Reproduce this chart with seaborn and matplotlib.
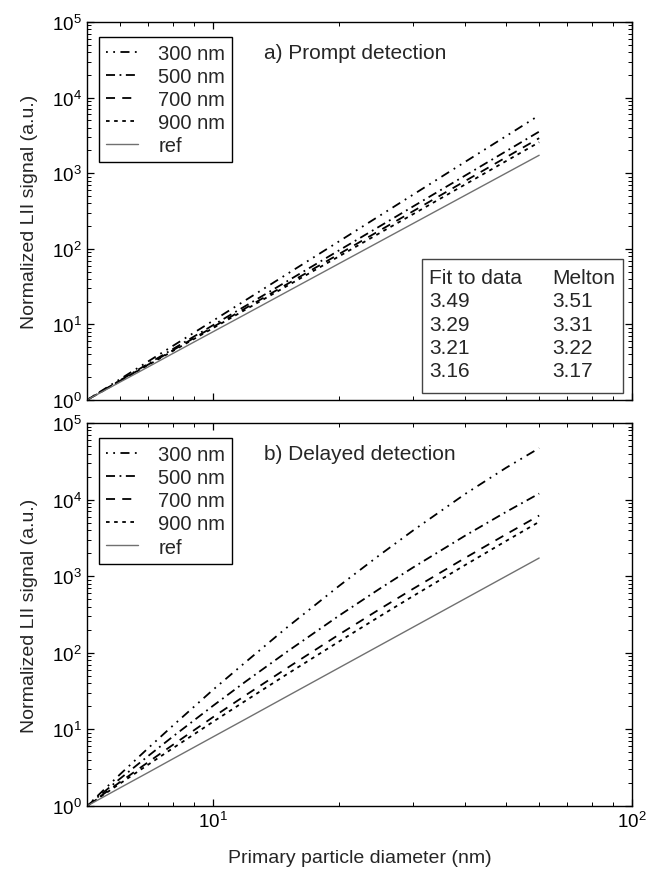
import numpy as np
import matplotlib
matplotlib.use("Agg")
import matplotlib.pyplot as plt
from matplotlib.patches import Rectangle
from matplotlib.ticker import LogLocator, NullFormatter
import seaborn as sns

# primary particle diameter (nm)
diam = [5, 6, 7, 8, 10, 12, 15, 20, 25, 30, 40, 50, 60]

# a) prompt detection
prompt_300 = [1, 1.89, 3.24, 5.16, 11.2, 21.2, 46.2, 126, 275, 520, 1420, 3090, 5840]
prompt_500 = [1, 1.82, 3.02, 4.69, 9.78, 17.8, 37.1, 95.7, 199, 363, 935, 1950, 3550]
prompt_700 = [1, 1.80, 2.94, 4.52, 9.25, 16.6, 34.0, 85.6, 175, 314, 792, 1620, 2910]
prompt_900 = [1, 1.78, 2.90, 4.42, 8.94, 15.9, 32.2, 79.8, 162, 287, 713, 1445, 2570]

# b) delayed detection
delayed_300 = [1, 2.6, 5.7, 11.1, 33, 77, 214, 750, 1900, 3950, 11900, 26000, 47000]
delayed_500 = [1, 2.28, 4.5, 8.0, 20.4, 42.8, 103, 307, 689, 1300, 3400, 6900, 12000]
delayed_700 = [1, 2.06, 3.74, 6.24, 14.5, 28.3, 63, 174, 373, 684, 1740, 3520, 6200]
delayed_900 = [1, 1.97, 3.47, 5.64, 12.6, 24.0, 52.5, 141, 300, 550, 1406, 2880, 5130]

# reference d^3 curve
ref = [1, 1.73, 2.74, 4.10, 8, 13.8, 27, 64, 125, 216, 512, 1000, 1728]

labels = ["300 nm", "500 nm", "700 nm", "900 nm", "ref"]
fit_vals = ["3.49", "3.29", "3.21", "3.16"]
melton_vals = ["3.51", "3.31", "3.22", "3.17"]

styles = [(0, (1, 3, 1, 3, 5, 3)), (0, (5, 2.5, 1, 2.5)), (0, (5, 4)), (0, (2, 2.5)), "-"]
colors = ["black", "black", "black", "black", "#707070"]
widths = [1.3, 1.3, 1.3, 1.3, 1.0]

sns.set_style("ticks")
plt.rcParams["font.family"] = ["Liberation Sans", "DejaVu Sans"]
plt.rcParams["mathtext.fontset"] = "custom"
plt.rcParams["mathtext.rm"] = "Liberation Sans"

fig = plt.figure(figsize=(6.51, 8.79), dpi=100)
ax_a = fig.add_axes([0.1336, 0.5438, 0.8374, 0.4300])
ax_b = fig.add_axes([0.1336, 0.0819, 0.8374, 0.4357])

panels = [
    (ax_a, [prompt_300, prompt_500, prompt_700, prompt_900, ref], "a) Prompt detection"),
    (ax_b, [delayed_300, delayed_500, delayed_700, delayed_900, ref], "b) Delayed detection"),
]

for ax, series, title in panels:
    for vals, lab, ls, c, lw in zip(series, labels, styles, colors, widths):
        sns.lineplot(x=diam, y=vals, ax=ax, color=c, linestyle=ls, linewidth=lw, label=lab)
    ax.set_xscale("log")
    ax.set_yscale("log")
    ax.set_xlim(5, 100)
    ax.set_ylim(1, 1e5)
    ax.yaxis.set_major_locator(LogLocator(base=10, numticks=10))
    ax.yaxis.set_minor_locator(LogLocator(base=10, subs=np.arange(2, 10), numticks=10))
    ax.yaxis.set_minor_formatter(NullFormatter())
    ax.xaxis.set_minor_formatter(NullFormatter())
    ax.tick_params(which="both", direction="in", top=True, right=True, colors="black")
    ax.tick_params(which="major", length=5, width=0.9, labelsize=13.5)
    ax.tick_params(which="minor", length=3, width=0.7)
    for sp in ax.spines.values():
        sp.set_color("black")
        sp.set_linewidth(1.0)
    ax.set_ylabel("Normalized LII signal (a.u.)", fontsize=14, labelpad=10)
    ax.text(0.324, 0.92, title, transform=ax.transAxes, fontsize=15, va="center", ha="left")
    leg = ax.legend(loc="upper left", bbox_to_anchor=(0.022, 0.96), borderaxespad=0,
                    fontsize=14.5, handlelength=1.6, handletextpad=1.0, labelspacing=0.2,
                    borderpad=0.35, fancybox=False, framealpha=1)
    leg.get_frame().set_edgecolor("black")
    leg.get_frame().set_linewidth(1.0)

ax_a.tick_params(axis="x", labelbottom=False)
ax_a.set_xlabel("")
ax_b.set_xlabel("Primary particle diameter (nm)", fontsize=14, labelpad=13)

# fit exponent table in panel a
ax_a.add_patch(Rectangle((0.615, 0.0185), 0.369, 0.354, transform=ax_a.transAxes,
                         fill=True, facecolor="white", edgecolor="#444444", linewidth=1.0, zorder=5))
ax_a.text(0.628, 0.325, "Fit to data", transform=ax_a.transAxes, fontsize=15, va="center", zorder=6)
ax_a.text(0.853, 0.325, "Melton", transform=ax_a.transAxes, fontsize=15, va="center", zorder=6)
for i, (f, m) in enumerate(zip(fit_vals, melton_vals)):
    yy = 0.262 - i * 0.0615
    ax_a.text(0.628, yy, f, transform=ax_a.transAxes, fontsize=15, va="center", zorder=6)
    ax_a.text(0.853, yy, m, transform=ax_a.transAxes, fontsize=15, va="center", zorder=6)

fig.savefig("out.png", dpi=100)
